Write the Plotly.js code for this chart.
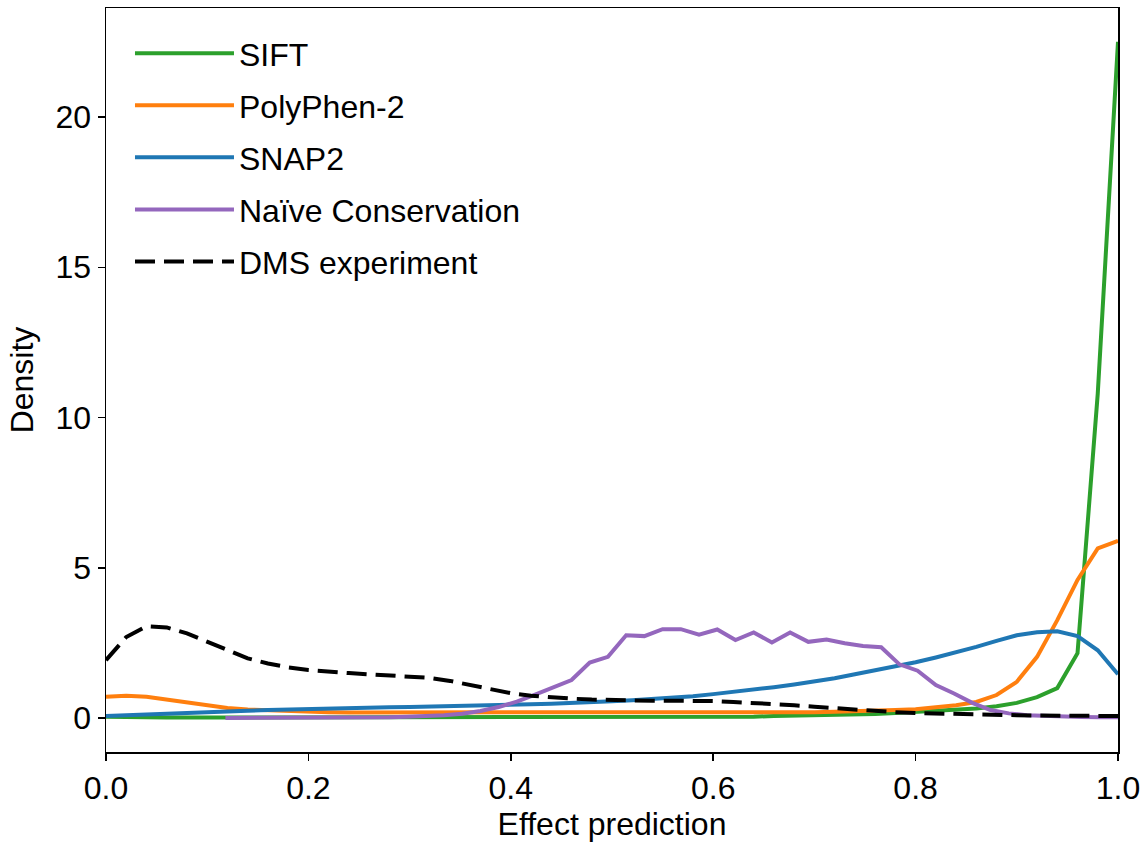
<!DOCTYPE html>
<html>
<head>
<meta charset="utf-8">
<script src="https://cdn.plot.ly/plotly-3.0.1.min.js"></script>
<style>html,body{margin:0;padding:0;background:#fff;}#chart{width:1146px;height:842px;}</style>
</head>
<body>
<div id="chart"></div>
<script>
// Shared x grid (0 to 1, step 0.02) for SIFT, PolyPhen-2, SNAP2, DMS
const xGrid = [0,0.02,0.04,0.06,0.08,0.10,0.12,0.14,0.16,0.18,0.20,0.22,0.24,0.26,0.28,0.30,0.32,0.34,0.36,0.38,0.40,0.42,0.44,0.46,0.48,0.50,0.52,0.54,0.56,0.58,0.60,0.62,0.64,0.66,0.68,0.70,0.72,0.74,0.76,0.78,0.80,0.82,0.84,0.86,0.88,0.90,0.92,0.94,0.96,0.98,1.00];

const siftY = [0.05,0.03,0.02,0.02,0.02,0.02,0.02,0.02,0.02,0.02,0.02,0.02,0.02,0.02,0.02,0.02,0.02,0.02,0.02,0.02,0.02,0.02,0.02,0.02,0.02,0.02,0.02,0.02,0.02,0.02,0.03,0.04,0.05,0.07,0.08,0.09,0.10,0.12,0.14,0.17,0.20,0.23,0.27,0.32,0.40,0.51,0.70,1.00,2.16,10.8,22.5];

const polyphenY = [0.71,0.75,0.71,0.62,0.51,0.41,0.34,0.29,0.26,0.23,0.21,0.20,0.19,0.19,0.18,0.18,0.18,0.17,0.17,0.17,0.17,0.17,0.17,0.17,0.17,0.17,0.17,0.17,0.17,0.17,0.17,0.17,0.18,0.18,0.19,0.20,0.21,0.22,0.24,0.27,0.30,0.36,0.43,0.54,0.77,1.21,2.04,3.26,4.60,5.65,5.90];

const snap2Y = [0.07,0.10,0.13,0.16,0.19,0.21,0.23,0.25,0.27,0.29,0.31,0.32,0.34,0.35,0.36,0.37,0.38,0.39,0.40,0.42,0.44,0.46,0.48,0.50,0.53,0.56,0.60,0.64,0.68,0.73,0.80,0.87,0.95,1.03,1.12,1.22,1.33,1.46,1.59,1.72,1.86,2.02,2.19,2.37,2.57,2.76,2.86,2.89,2.73,2.26,1.46];

const dmsY = [1.93,2.70,3.06,3.02,2.82,2.54,2.24,1.99,1.82,1.69,1.60,1.54,1.50,1.46,1.43,1.40,1.34,1.24,1.10,0.95,0.83,0.75,0.69,0.65,0.62,0.60,0.59,0.58,0.58,0.58,0.57,0.54,0.51,0.47,0.43,0.38,0.33,0.28,0.24,0.20,0.17,0.15,0.13,0.12,0.11,0.10,0.09,0.08,0.08,0.07,0.07];

// Naive Conservation has its own grid (0.118 to 1.0, step 0.018)
const naiveX = [0.118,0.136,0.154,0.172,0.190,0.208,0.226,0.244,0.262,0.280,0.298,0.316,0.334,0.352,0.370,0.388,0.406,0.424,0.442,0.460,0.478,0.496,0.514,0.532,0.550,0.568,0.586,0.604,0.622,0.640,0.658,0.676,0.694,0.712,0.730,0.748,0.766,0.784,0.802,0.820,0.838,0.856,0.874,0.892,0.910,0.928,0.946,0.964,0.982,1.000];
const naiveY = [0.01,0.01,0.01,0.01,0.01,0.02,0.02,0.02,0.02,0.03,0.05,0.07,0.10,0.15,0.24,0.37,0.55,0.78,1.01,1.27,1.85,2.04,2.76,2.73,2.96,2.96,2.78,2.95,2.60,2.85,2.52,2.85,2.54,2.62,2.49,2.40,2.36,1.79,1.58,1.10,0.82,0.51,0.27,0.16,0.10,0.07,0.05,0.04,0.03,0.03];

const seriesNames = ["SIFT","PolyPhen-2","SNAP2","Naïve Conservation","DMS experiment"];
const seriesColors = ["#2ca02c","#ff7f0e","#1f77b4","#9467bd","#000000"];

const xTickVals = [0,0.2,0.4,0.6,0.8,1.0];
const xTickText = ["0.0","0.2","0.4","0.6","0.8","1.0"];
const yTickVals = [0,5,10,15,20];
const yTickText = ["0","5","10","15","20"];

const FONT = "Liberation Sans, Arial, Helvetica, sans-serif";
const FS = 32;
const LW = 4;

const traces = [
  {x: xGrid, y: siftY, name: seriesNames[0], legendgroup: "g1", mode: "lines", line: {color: seriesColors[0], width: LW}},
  {x: xGrid, y: polyphenY, name: seriesNames[1], legendgroup: "g2", mode: "lines", line: {color: seriesColors[1], width: LW}},
  {x: xGrid, y: snap2Y, name: seriesNames[2], legendgroup: "g3", mode: "lines", line: {color: seriesColors[2], width: LW}},
  {x: naiveX, y: naiveY, name: seriesNames[3], legendgroup: "g4", mode: "lines", line: {color: seriesColors[3], width: LW}},
  {x: xGrid, y: dmsY, name: seriesNames[4], legendgroup: "g5", mode: "lines", line: {color: seriesColors[4], width: LW, dash: "20px,9px"}}
];

const layout = {
  width: 1146, height: 842,
  margin: {l: 106, r: 28, t: 8, b: 90, pad: 0},
  paper_bgcolor: "#fff", plot_bgcolor: "#fff",
  font: {family: FONT, size: FS, color: "#000"},
  showlegend: true,
  legend: {
    x: 0.0237, y: 0.976, xanchor: "left", yanchor: "top",
    bgcolor: "rgba(0,0,0,0)", borderwidth: 0,
    font: {family: FONT, size: FS, color: "#000"},
    itemwidth: 99, tracegroupgap: 7.5
  },
  xaxis: {
    range: [0, 1], tickmode: "array", tickvals: xTickVals, ticktext: xTickText,
    ticks: "outside", ticklen: 7, tickwidth: 1.5, tickcolor: "#000",
    showline: true, linecolor: "#000", linewidth: 1.5, mirror: true,
    showgrid: false, zeroline: false,
    tickfont: {family: FONT, size: FS, color: "#000"},
    title: {text: "Effect prediction", font: {family: FONT, size: FS, color: "#000"}, standoff: 10}
  },
  yaxis: {
    range: [-1.125, 23.625], tickmode: "array", tickvals: yTickVals, ticktext: yTickText,
    ticks: "outside", ticklen: 7, tickwidth: 1.5, tickcolor: "#000",
    showline: true, linecolor: "#000", linewidth: 1.5, mirror: true,
    showgrid: false, zeroline: false,
    tickfont: {family: FONT, size: FS, color: "#000"},
    title: {text: "Density", font: {family: FONT, size: FS, color: "#000"}, standoff: 12}
  }
};

Plotly.newPlot("chart", traces, layout, {staticPlot: true, displayModeBar: false});
</script>
</body>
</html>
